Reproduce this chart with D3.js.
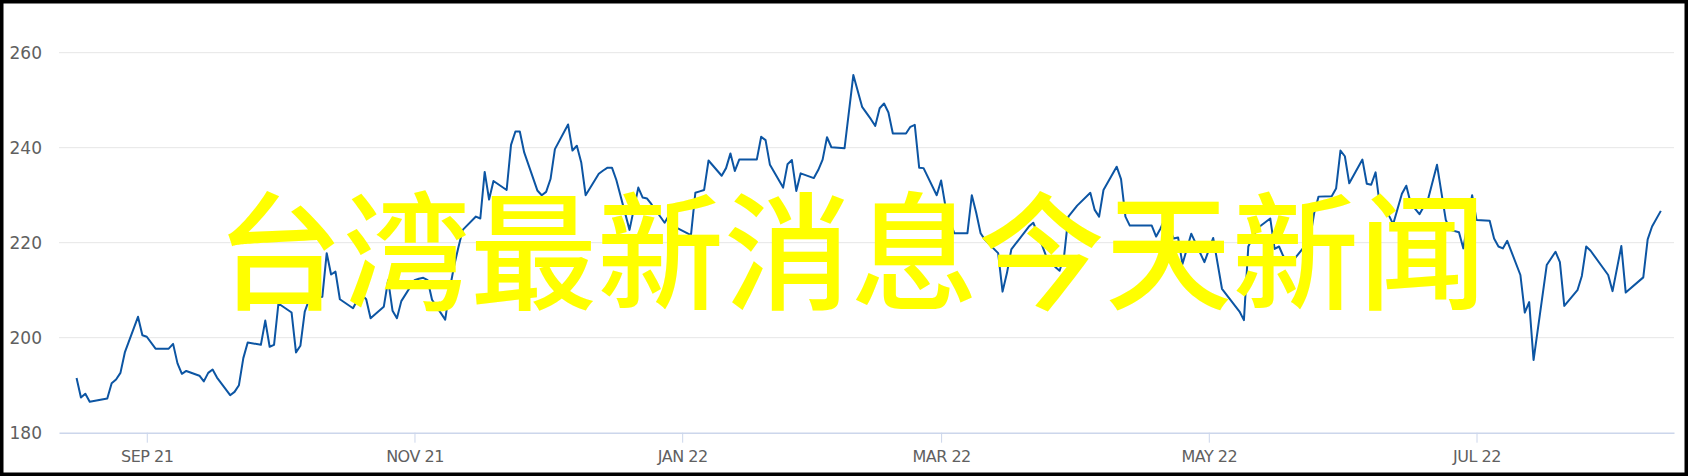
<!DOCTYPE html>
<html>
<head>
<meta charset="utf-8">
<script src="https://cdn.jsdelivr.net/npm/d3@7"></script>
<style>body{margin:0;background:#fff;overflow:hidden}</style>
</head>
<body>
<script>
// price series
var dates = [
  "2021-08-16","2021-08-17","2021-08-18","2021-08-19","2021-08-23","2021-08-24","2021-08-25","2021-08-26","2021-08-27","2021-08-30","2021-08-31",
  "2021-09-01","2021-09-03","2021-09-06","2021-09-07","2021-09-08","2021-09-09","2021-09-10","2021-09-13","2021-09-14","2021-09-15","2021-09-16","2021-09-17",
  "2021-09-20","2021-09-21","2021-09-22","2021-09-23","2021-09-24","2021-09-27","2021-09-28","2021-09-29","2021-09-30",
  "2021-10-01","2021-10-04","2021-10-05","2021-10-06","2021-10-07","2021-10-08","2021-10-11","2021-10-12","2021-10-13","2021-10-14","2021-10-15",
  "2021-10-18","2021-10-19","2021-10-20","2021-10-21","2021-10-22","2021-10-25","2021-10-26","2021-10-27","2021-10-28","2021-10-29",
  "2021-11-01","2021-11-02","2021-11-03","2021-11-04","2021-11-05","2021-11-08","2021-11-09","2021-11-10","2021-11-11","2021-11-12",
  "2021-11-15","2021-11-16","2021-11-17","2021-11-18","2021-11-19","2021-11-22","2021-11-23","2021-11-24","2021-11-25","2021-11-26","2021-11-29","2021-11-30",
  "2021-12-01","2021-12-02","2021-12-03","2021-12-06","2021-12-07","2021-12-08","2021-12-09","2021-12-10","2021-12-13","2021-12-14","2021-12-15","2021-12-16","2021-12-17",
  "2021-12-20","2021-12-22","2021-12-23","2021-12-24","2021-12-25","2021-12-28","2021-12-29","2021-12-30","2021-12-31",
  "2022-01-03","2022-01-04","2022-01-05","2022-01-06","2022-01-07","2022-01-10","2022-01-11","2022-01-12","2022-01-13","2022-01-14",
  "2022-01-18","2022-01-19","2022-01-20","2022-01-21","2022-01-24","2022-01-25","2022-01-26","2022-01-27","2022-01-28","2022-01-31",
  "2022-02-01","2022-02-02","2022-02-03","2022-02-04","2022-02-07","2022-02-09","2022-02-11","2022-02-13","2022-02-14","2022-02-15","2022-02-16","2022-02-17","2022-02-18",
  "2022-02-21","2022-02-22","2022-02-23","2022-02-24","2022-02-25","2022-02-28",
  "2022-03-01","2022-03-02","2022-03-03","2022-03-04","2022-03-07","2022-03-08","2022-03-09","2022-03-10","2022-03-11","2022-03-14","2022-03-15","2022-03-16","2022-03-17",
  "2022-03-21","2022-03-22","2022-03-23","2022-03-24","2022-03-25","2022-03-27","2022-03-28","2022-03-29","2022-03-30","2022-04-01",
  "2022-04-04","2022-04-05","2022-04-06","2022-04-07","2022-04-10","2022-04-11","2022-04-12","2022-04-13","2022-04-18","2022-04-19","2022-04-20","2022-04-21",
  "2022-04-23","2022-04-24","2022-04-25","2022-04-27","2022-04-30",
  "2022-05-02","2022-05-04","2022-05-08","2022-05-09","2022-05-10","2022-05-12","2022-05-15","2022-05-16","2022-05-17","2022-05-18","2022-05-20",
  "2022-05-24","2022-05-25","2022-05-26","2022-05-29","2022-05-30","2022-05-31",
  "2022-06-01","2022-06-02","2022-06-05","2022-06-06","2022-06-07","2022-06-08","2022-06-09","2022-06-11","2022-06-12","2022-06-14","2022-06-15","2022-06-16",
  "2022-06-18","2022-06-20","2022-06-22","2022-06-24","2022-06-25","2022-06-27","2022-06-28","2022-06-30",
  "2022-07-01","2022-07-04","2022-07-05","2022-07-06","2022-07-07","2022-07-08","2022-07-11","2022-07-12","2022-07-13","2022-07-14",
  "2022-07-17","2022-07-19","2022-07-20","2022-07-21","2022-07-24","2022-07-25","2022-07-26","2022-07-27","2022-07-31",
  "2022-08-01","2022-08-03","2022-08-04","2022-08-08","2022-08-09","2022-08-10","2022-08-12"
];
var prices = [
  191.5,187.4,188.2,186.5,187.2,190.4,191.2,192.6,196.9,204.4,200.5,
  200.2,197.7,197.7,198.7,194.6,192.4,193.0,192.0,190.8,192.6,193.3,191.6,
  187.9,188.6,190.0,195.7,199.0,198.5,203.6,198.1,198.5,
  207.2,205.3,196.9,198.3,205.5,208.0,208.6,217.8,213.3,213.9,208.1,
  206.2,208.0,209.0,208.1,204.1,206.5,212.1,205.7,204.1,207.7,
  212.1,212.4,212.6,212.1,208.0,203.8,210.0,215.0,219.0,222.7,
  225.5,225.1,234.9,229.1,233.0,231.1,240.6,243.4,243.4,239.0,231.0,230.0,
  230.7,233.4,239.7,244.9,239.4,240.4,236.9,230.0,234.5,235.2,235.8,235.8,233.2,
  222.7,231.6,229.5,229.3,228.1,224.2,225.8,224.0,223.0,
  221.6,230.5,230.8,231.1,237.3,234.1,235.7,238.8,235.1,237.5,
  237.5,242.3,241.6,236.4,231.6,236.5,237.4,230.9,234.6,233.6,
  235.3,237.5,242.2,240.1,239.9,255.3,248.6,246.0,244.6,248.3,249.3,247.4,243.0,
  243.0,244.4,244.8,235.8,235.7,230.0,
  233.1,227.6,224.5,222.0,222.0,230.0,226.3,222.0,220.6,217.8,209.7,213.6,218.6,
  223.4,224.2,222.0,219.5,217.0,214.9,214.1,217.0,225.5,227.8,
  230.5,226.9,225.5,231.1,236.0,233.4,225.5,223.6,223.6,221.3,223.0,225.1,
  220.9,221.1,215.5,221.9,215.9,
  221.0,210.3,205.5,203.7,219.2,223.0,225.1,218.7,219.2,217.1,216.0,
  220.6,226.2,229.7,229.8,231.4,239.4,
  238.2,232.5,237.5,232.4,232.2,234.8,227.6,225.8,223.9,230.3,232.0,228.3,
  226.0,229.3,236.4,224.8,222.7,222.2,218.8,230.0,
  224.8,224.6,220.9,219.2,218.8,220.4,213.2,205.3,207.5,195.3,
  215.3,218.1,215.9,206.7,210.0,213.0,219.2,218.3,213.2,
  209.8,219.3,209.5,212.7,220.7,223.4,226.7
];
var yTicks = [180, 200, 220, 240, 260];
var xTicks = ["2021-09-01","2021-11-01","2022-01-01","2022-03-01","2022-05-01","2022-07-01"];
var xDomain = ["2021-08-12","2022-08-15"];
var banner = "台湾最新消息今天新闻";

var W = 1688, H = 476;
var parse = d3.timeParse("%Y-%m-%d");
var fmt = d3.timeFormat("%b %y");

var svg = d3.select("body").append("svg")
    .attr("width", W)
    .attr("height", H)
    .style("display", "block");

var x = d3.scaleTime().domain(xDomain.map(parse)).range([59, 1674]);
var y = d3.scaleLinear().domain([180, 260]).range([432.7, 52.7]);

// grid lines
svg.append("g").selectAll("line").data(yTicks.slice(1)).join("line")
    .attr("x1", 59).attr("x2", 1674)
    .attr("y1", d => y(d)).attr("y2", d => y(d))
    .attr("stroke", "#e6e6e6").attr("stroke-width", 1);

// y labels
svg.append("g").selectAll("text").data(yTicks).join("text")
    .attr("x", 42).attr("y", d => y(d))
    .attr("text-anchor", "end").attr("dominant-baseline", "central")
    .style("font-family", "DejaVu Sans").style("font-size", "17px").style("fill", "#606060")
    .text(d => d);

// x axis
var xAxis = svg.append("g").attr("transform", "translate(0," + y(180) + ")")
    .call(d3.axisBottom(x).tickValues(xTicks.map(parse)).tickSize(10).tickSizeOuter(0).tickPadding(8)
      .tickFormat(d => fmt(d).toUpperCase()));
xAxis.select(".domain").attr("stroke", "#ccd6eb").attr("stroke-width", 1.5);
xAxis.selectAll(".tick line").attr("stroke", "#ccd6eb");
xAxis.selectAll(".tick text")
    .style("font-family", "DejaVu Sans").style("font-size", "16px")
    .style("letter-spacing", "-0.5px").style("fill", "#606060");

// price line
var line = d3.line().x((d, i) => x(parse(dates[i]))).y(d => y(d));
svg.append("path").datum(prices)
    .attr("d", line)
    .attr("fill", "none")
    .attr("stroke", "#0c55a3")
    .attr("stroke-width", 2)
    .attr("stroke-linejoin", "round");

// overlay text
svg.append("text")
    .attr("x", 851).attr("y", 245)
    .attr("text-anchor", "middle").attr("dominant-baseline", "central")
    .style("font-family", "Noto Sans CJK SC").style("font-weight", 500)
    .style("font-size", "127px").style("fill", "#ffff00")
    .text(banner);

// frame
svg.append("rect")
    .attr("x", 1.75).attr("y", 1.75).attr("width", W - 3.5).attr("height", H - 3.5)
    .attr("fill", "none").attr("stroke", "#000").attr("stroke-width", 3.5);
</script>
</body>
</html>
